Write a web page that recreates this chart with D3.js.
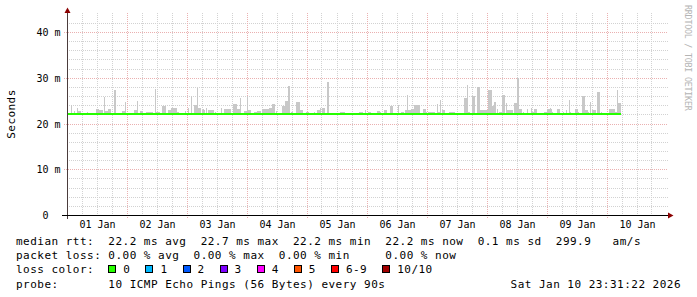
<!DOCTYPE html>
<html>
<head>
<meta charset="utf-8">
<script src="https://cdn.jsdelivr.net/npm/d3@7"></script>
<style>
  body { margin: 0; background: #fff; }
  text { font-family: "DejaVu Sans Mono", monospace; }
</style>
</head>
<body>
<svg id="chart" width="697" height="297"></svg>
<script>
// smokeping style latency graph, 10 days, one step = 24 min
const dayLabels = ['01 Jan','02 Jan','03 Jan','04 Jan','05 Jan','06 Jan','07 Jan','08 Jan','09 Jan','10 Jan'];
const yTickValues = [0, 10, 20, 30, 40];
const yTickLabels = ['0', '10 m', '20 m', '30 m', '40 m'];
const stepMinutes = 24;
const dataSteps = 554;      // steps with data
const medianRtt = 22.2;     // ms
const minRtt = 22.0;        // ms, bottom of the smoke

// [first step, number of steps, max rtt in ms]
const smoke = [
  [4,1,24.2],[7,1,22.8],[10,1,23.6],[11,3,22.8],[20,1,22.7],[29,3,23.3],[32,4,23.1],[37,1,26.0],
  [38,3,22.8],[41,3,23.3],[47,2,27.5],[55,3,22.9],[58,1,24.8],[67,3,23.1],[70,1,25.0],[73,3,22.9],
  [79,3,22.7],[82,4,22.7],[88,1,27.6],[89,4,22.7],[95,4,23.9],[101,3,23.1],[104,3,23.6],[107,3,23.6],
  [110,2,22.6],[118,1,22.9],[121,1,23.5],[124,1,26.2],[127,3,24.2],[130,1,27.8],[131,3,23.6],[135,3,23.0],
  [136,1,23.2],[139,1,23.5],[141,6,23.0],[148,1,22.7],[154,1,23.6],[157,7,23.2],[166,4,24.3],[170,3,23.3],
  [173,1,25.6],[177,3,22.9],[180,1,26.1],[181,3,23.1],[187,3,22.7],[190,4,22.9],[195,4,23.2],[199,3,23.3],
  [202,3,23.6],[205,3,24.3],[209,1,22.8],[215,3,24.0],[218,3,25.0],[221,2,28.2],[224,2,22.7],[229,4,24.8],
  [233,3,23.1],[239,3,22.7],[247,1,22.7],[250,3,23.1],[253,1,23.6],[255,3,23.6],[260,2,29.1],[266,6,22.5],
  [273,5,22.6],[278,9,22.5],[292,4,22.7],[298,1,23.0],[301,3,22.7],[305,4,22.5],[310,3,22.8],[313,1,22.6],
  [317,3,23.1],[320,3,22.5],[323,3,24.0],[326,3,22.5],[331,1,24.1],[334,3,22.7],[338,6,23.0],[340,1,26.3],
  [344,3,23.3],[347,6,24.2],[356,3,23.3],[359,1,22.7],[361,7,22.7],[370,1,24.3],[371,2,22.7],[373,1,25.2],
  [375,3,23.1],[379,3,22.5],[382,3,22.7],[385,3,22.7],[388,3,22.5],[397,3,25.7],[400,1,28.6],[401,2,22.7],
  [405,3,26.2],[410,3,28.0],[413,6,23.0],[419,2,23.0],[421,4,27.5],[425,2,23.9],[427,2,24.9],[430,1,23.3],
  [432,3,22.7],[435,3,26.4],[439,1,24.6],[440,6,23.0],[447,3,24.6],[450,2,30.1],[452,3,23.3],[456,1,22.7],
  [460,1,23.3],[464,1,23.5],[465,2,22.7],[467,3,23.3],[470,1,22.5],[474,1,22.5],[477,3,22.7],[480,5,23.3],
  [483,1,23.6],[485,1,22.7],[490,3,23.3],[496,1,22.7],[499,1,23.0],[502,1,25.2],[503,1,22.7],[508,3,23.3],
  [511,1,22.7],[515,3,26.2],[518,3,23.0],[521,1,22.7],[523,1,24.9],[525,4,23.0],[530,3,27.1],[534,1,22.7],
  [542,6,23.3],[548,2,22.7],[550,1,27.5],[551,3,24.7]
];

const lossLabels = ['0','1','2','3','4','5','6-9','10/10'];
const lossColors = ['#26ff00','#00b8ff','#0059ff','#7e00ff','#ff00ff','#ff5500','#ff0000','#a10000'];

const rttLine   = 'median rtt:  22.2 ms avg  22.7 ms max  22.2 ms min  22.2 ms now  0.1 ms sd  299.9   am/s';
const lossLine  = 'packet loss: 0.00 % avg  0.00 % max  0.00 % min     0.00 % now';
const colorHead = 'loss color:';
const probeLine = 'probe:       10 ICMP Echo Pings (56 Bytes) every 90s';
const stampText = 'Sat Jan 10 23:31:22 2026';

const svg = d3.select('#chart');
const t0 = new Date(2026, 0, 1);
const t1 = new Date(2026, 0, 11);
const stepTime = s => new Date(t0.getTime() + s * stepMinutes * 60000);

const x = d3.scaleTime().domain([t0, t1]).range([67, 667]);
const y = d3.scaleLinear().domain([0, 44.2]).range([215.5, 13.3]);
const px = v => Math.floor(v) + 0.5;

const plotTop = 13.3, plotRight = 668;
const minorCol = '#d2d2d2', majorCol = '#eab0b0';

// grid
const grid = svg.append('g').attr('shape-rendering', 'crispEdges');
const minorH = d3.range(2, 44, 2).filter(v => v % 10 !== 0);
grid.selectAll('line.hmin').data(minorH).join('line')
  .attr('x1', 67).attr('x2', plotRight)
  .attr('y1', d => px(y(d))).attr('y2', d => px(y(d)))
  .attr('stroke', minorCol).attr('stroke-dasharray', '1,1');
const sixHours = d3.timeHour.every(6).range(t0, t1).filter(d => d.getHours() !== 0);
grid.selectAll('line.vmin').data(sixHours).join('line')
  .attr('x1', d => px(x(d))).attr('x2', d => px(x(d)))
  .attr('y1', plotTop).attr('y2', 215)
  .attr('stroke', minorCol).attr('stroke-dasharray', '1,1');
grid.selectAll('line.hmaj').data(yTickValues.slice(1)).join('line')
  .attr('x1', 64).attr('x2', plotRight)
  .attr('y1', d => px(y(d))).attr('y2', d => px(y(d)))
  .attr('stroke', majorCol).attr('stroke-dasharray', '1,1');
const days = d3.timeDay.range(d3.timeDay.offset(t0, 1), t1);
grid.selectAll('line.vmaj').data(days).join('line')
  .attr('x1', d => px(x(d))).attr('x2', d => px(x(d)))
  .attr('y1', plotTop).attr('y2', 218)
  .attr('stroke', majorCol).attr('stroke-dasharray', '1,1');

// smoke
svg.append('g').attr('shape-rendering', 'crispEdges')
  .selectAll('rect').data(smoke).join('rect')
  .attr('x', d => x(stepTime(d[0])))
  .attr('width', d => x(stepTime(d[0] + d[1])) - x(stepTime(d[0])))
  .attr('y', d => y(d[2]))
  .attr('height', d => y(minRtt) - y(d[2]))
  .attr('fill', '#c8c8c8');

// median, coloured by loss (no loss here)
svg.append('line')
  .attr('x1', x(stepTime(0))).attr('x2', x(stepTime(dataSteps)))
  .attr('y1', y(medianRtt)).attr('y2', y(medianRtt))
  .attr('stroke', lossColors[0]).attr('stroke-width', 2);

// axes
svg.append('line').attr('x1', 67.5).attr('x2', 67.5).attr('y1', 12).attr('y2', 219)
  .attr('stroke', '#4a3c3c').attr('shape-rendering', 'crispEdges');
svg.append('line').attr('x1', 62).attr('x2', 669).attr('y1', 215.5).attr('y2', 215.5)
  .attr('stroke', '#000').attr('shape-rendering', 'crispEdges');
svg.append('path').attr('d', 'M64.5,13 L67.5,7.5 L70.5,13 Z').attr('fill', '#8b0000');
svg.append('path').attr('d', 'M668,212.5 L673.5,215.5 L668,218.5 Z').attr('fill', '#8b0000');

// tick labels
svg.append('g').selectAll('text').data(yTickValues).join('text')
  .attr('x', (d, i) => i === 0 ? 48.5 : 60.5)
  .attr('y', d => px(y(d)) + 3.5)
  .attr('text-anchor', 'end')
  .style('font-size', '10px').attr('fill', '#000')
  .text((d, i) => yTickLabels[i]);
svg.append('g').selectAll('text').data(dayLabels).join('text')
  .attr('x', (d, i) => x(d3.timeHour.offset(d3.timeDay.offset(t0, i), 12)) + 0.5)
  .attr('y', 227.5)
  .attr('text-anchor', 'middle')
  .style('font-size', '10px').attr('fill', '#000')
  .text(d => d);

svg.append('text')
  .attr('transform', 'translate(15,114) rotate(-90)')
  .attr('text-anchor', 'middle')
  .style('font-size', '11px').style('letter-spacing', '0.45px').attr('fill', '#000')
  .text('Seconds');

svg.append('text')
  .attr('transform', 'translate(684.5,5) rotate(90)')
  .style('font-size', '8.3px').style('letter-spacing', '-0.2px').attr('fill', '#b4b4b4')
  .text('RRDTOOL / TOBI OETIKER');

// legend
const charW = 7.1;
const leg = svg.append('g').attr('fill', '#000')
  .style('font-size', '11px').style('letter-spacing', (charW - 6.62) + 'px')
  .style('white-space', 'pre');
const baseY = 244.7, rowH = 14.3;
[rttLine, lossLine, colorHead, probeLine].forEach((s, i) => {
  leg.append('text').attr('x', 16).attr('y', baseY + i * rowH).attr('xml:space', 'preserve').text(s);
});
leg.append('text').attr('x', 681).attr('y', baseY + 3 * rowH).attr('text-anchor', 'end').text(stampText);

let lx = 16 + 13 * charW;
lossLabels.forEach((lab, i) => {
  const by = baseY + 2 * rowH;
  leg.append('rect')
    .attr('x', Math.round(lx) + 0.5).attr('y', Math.round(by - 8) + 0.5)
    .attr('width', 7).attr('height', 7)
    .attr('fill', lossColors[i]).attr('stroke', '#000').attr('shape-rendering', 'crispEdges');
  leg.append('text').attr('x', lx + 15).attr('y', by).text(lab);
  lx += 15 + lab.length * charW + 15;
});
</script>
</body>
</html>
